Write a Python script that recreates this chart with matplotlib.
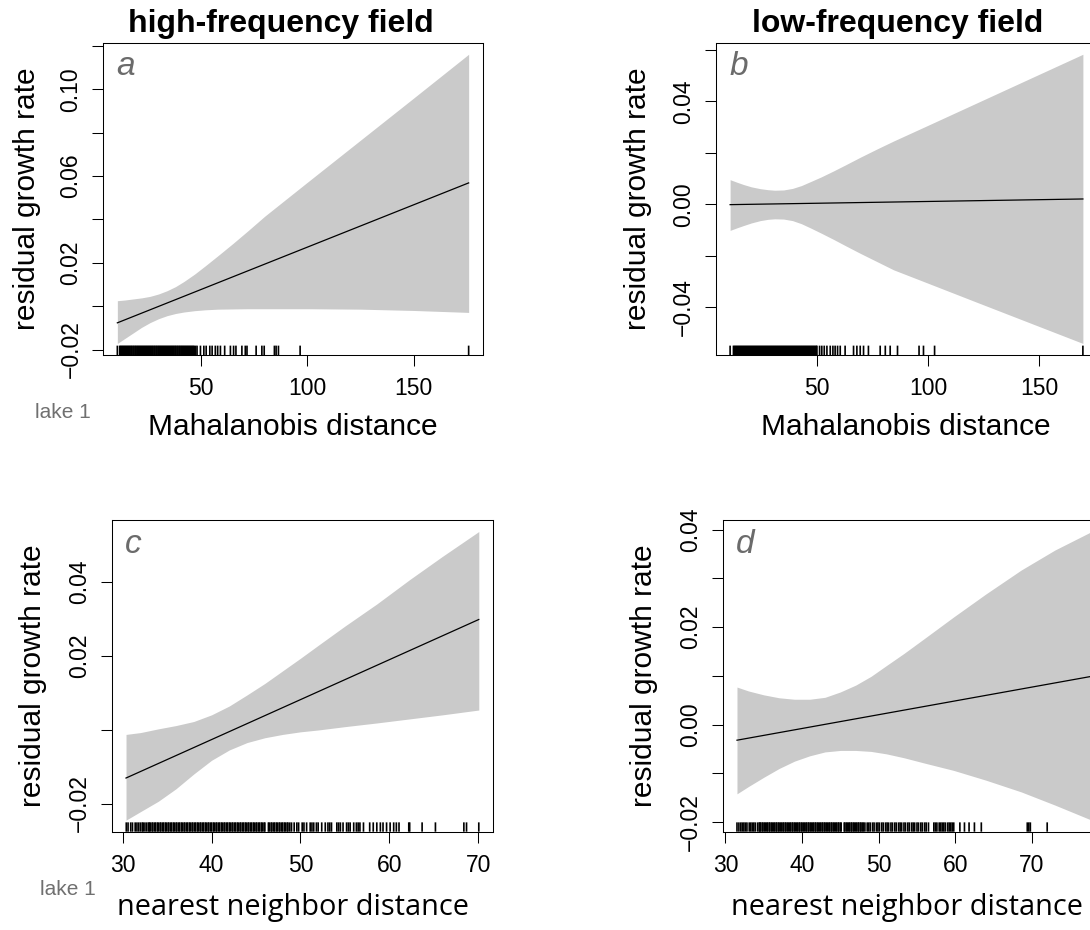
import matplotlib
matplotlib.use("Agg")
import matplotlib.pyplot as plt

W, H = 1090, 930

# ---- panel a: high-frequency field vs Mahalanobis distance
a_x = [10.6, 14, 18, 22, 26, 30, 34, 38, 42, 47, 52, 58, 65, 72, 80, 100, 125, 150, 175.9]
a_upper = [0.0025, 0.0028, 0.0033, 0.0038, 0.0045, 0.0056, 0.0071, 0.0090, 0.0114, 0.0148,
           0.0186, 0.0233, 0.0289, 0.0347, 0.0415, 0.0571, 0.0765, 0.0959, 0.1161]
a_lower = [-0.0172, -0.0150, -0.0124, -0.0098, -0.0076, -0.0058, -0.0044, -0.0034, -0.0027, -0.0021,
           -0.0017, -0.0014, -0.0013, -0.0012, -0.0012, -0.0012, -0.0014, -0.0020, -0.0029]
a_fit_x = [10.6, 175.9]
a_fit_y = [-0.0077, 0.0568]
a_rug = [10.6,
         11.7, 12.1, 12.6, 13.0, 13.5, 13.9, 14.4, 14.8, 15.3, 15.7, 16.2, 16.6, 17.1, 17.5, 18.0, 18.4,
         18.9, 19.3, 19.8, 20.2, 20.7, 21.1, 21.6, 22.0, 22.5, 22.9, 23.4, 23.8, 24.3, 24.7, 25.2, 25.6,
         26.1, 26.5, 27.0, 27.4, 27.9, 28.3, 28.8, 29.2, 29.7, 30.1, 30.6, 31.0, 31.5, 31.9, 32.4, 32.8,
         33.3, 33.7, 34.2, 34.6, 35.1, 35.5, 36.0, 36.4, 36.9, 37.3, 37.8, 38.2, 38.7, 39.1, 39.6, 40.0,
         40.5, 40.9, 41.4, 41.8, 42.3, 42.7, 43.2, 43.6, 44.1, 44.5, 45.0, 45.4, 45.9, 46.3, 46.8, 47.4,
         48.1, 49.7, 51.3, 52.4, 54.1, 55.2, 56.7, 57.8, 59.1, 61.1, 63.8, 65.3, 66.4, 69.2, 70.8, 71.6,
         75.9, 78.6, 79.7, 84.5, 85.3, 86.4, 96.6, 175.9]

# ---- panel b: low-frequency field vs Mahalanobis distance
b_x = [10.9, 14, 17, 20.5, 24.5, 28, 31, 35, 39, 43, 47, 52, 57.5, 63, 69.5, 77, 84.5, 100, 122, 145, 169.8]
b_upper = [0.0096, 0.0086, 0.0077, 0.0068, 0.0061, 0.0057, 0.0055, 0.0056, 0.0062, 0.0073, 0.0088,
           0.0107, 0.0130, 0.0154, 0.0183, 0.0215, 0.0246, 0.0307, 0.0394, 0.0485, 0.0583]
b_lower = [-0.0101, -0.0091, -0.0082, -0.0072, -0.0063, -0.0058, -0.0056, -0.0057, -0.0063, -0.0075, -0.0091,
           -0.0112, -0.0136, -0.0161, -0.0190, -0.0222, -0.0254, -0.0306, -0.0380, -0.0457, -0.0540]
b_fit_x = [10.9, 169.8]
b_fit_y = [-0.0001, 0.0021]
b_rug = [10.9,
         12.4, 12.8, 13.3, 13.7, 14.2, 14.6, 15.1, 15.5, 16.0, 16.4, 16.9, 17.3, 17.8, 18.2, 18.7, 19.1,
         19.6, 20.0, 20.5, 20.9, 21.4, 21.8, 22.3, 22.7, 23.2, 23.6, 24.1, 24.5, 25.0, 25.4, 25.9, 26.3,
         26.8, 27.2, 27.7, 28.1, 28.6, 29.0, 29.5, 29.9, 30.4, 30.8, 31.3, 31.7, 32.2, 32.6, 33.1, 33.5,
         34.0, 34.4, 34.9, 35.3, 35.8, 36.2, 36.7, 37.1, 37.6, 38.0, 38.5, 38.9, 39.4, 39.8, 40.3, 40.7,
         41.2, 41.6, 42.1, 42.5, 43.0, 43.4, 43.9, 44.3, 44.8, 45.2, 45.7, 46.1, 46.6, 47.0, 47.5, 47.9,
         48.4, 48.8, 49.3, 49.7, 50.0,
         51.2, 52.2, 53.3, 54.5, 56.0, 57.2, 58.2, 59.3, 60.5, 62.7, 66.5, 68.0, 69.5, 71.0, 73.2, 78.5,
         80.8, 83.0, 86.3, 96.0, 98.0, 103.0, 169.8]

# ---- panel c: high-frequency field vs nearest neighbor distance
c_x = [30.37, 32, 34, 36, 38, 40, 42, 44, 46, 48, 50, 52, 55, 58.6, 62.3, 66, 70.08]
c_upper = [-0.0013, -0.0008, 0.0002, 0.0011, 0.0022, 0.0040, 0.0064, 0.0094, 0.0125, 0.0159,
           0.0193, 0.0228, 0.0280, 0.0340, 0.0406, 0.0469, 0.0536]
c_lower = [-0.0245, -0.0222, -0.0194, -0.0160, -0.0120, -0.0083, -0.0055, -0.0035, -0.0022, -0.0013,
           -0.0006, -0.0001, 0.0008, 0.0018, 0.0029, 0.0040, 0.0053]
c_fit_x = [30.37, 70.08]
c_fit_y = [-0.0131, 0.0298]
c_rug = [30.4, 30.6, 30.9, 31.1, 31.4, 31.6, 31.8, 32.0, 32.2, 32.3, 32.5, 32.7, 32.9,
         33.0, 33.1, 33.3, 33.4, 33.6, 33.7, 33.9, 34.0, 34.2, 34.3, 34.5, 34.6, 34.8, 34.9, 35.1, 35.2,
         35.4, 35.5, 35.7, 35.8, 36.0, 36.1, 36.3, 36.4, 36.6, 36.7, 36.9, 37.0, 37.2, 37.3, 37.5, 37.6,
         37.8, 37.9, 38.1, 38.2, 38.4, 38.5, 38.7, 38.8, 39.0, 39.1, 39.3, 39.4, 39.6, 39.7, 39.9, 40.0,
         40.2, 40.3, 40.5, 40.6, 40.8, 40.9, 41.1, 41.2, 41.4, 41.5, 41.7, 41.8, 42.0, 42.1, 42.3, 42.4,
         42.6, 42.7, 42.9, 43.0, 43.2, 43.3, 43.5, 43.6, 43.8, 43.9, 44.1, 44.2, 44.4, 44.5, 44.7, 44.8,
         45.0, 45.1, 45.3, 45.4, 45.6, 45.7, 45.9, 46.0,
         46.4, 46.5, 46.7, 46.8, 47.0, 47.1, 47.3, 47.4, 47.6, 47.7, 47.9, 48.0, 48.2, 48.3, 48.5, 48.6, 48.8,
         49.0, 49.3, 49.6, 49.8, 50.2, 50.4, 50.7, 51.1, 51.3, 51.5, 51.8, 52.0, 52.4, 52.8, 53.1, 53.3,
         53.5, 54.1, 54.3, 54.5, 54.8, 55.2, 55.4, 55.6, 56.0, 56.3, 56.5, 56.7, 57.1, 57.8, 58.2, 58.6,
         59.0, 59.3, 59.7, 60.1, 60.5, 60.8, 61.1, 62.2, 62.3, 63.7, 65.2, 68.4, 68.7, 70.08]

# ---- panel d: low-frequency field vs nearest neighbor distance
d_x = [31.5, 33, 35, 37, 39, 41, 43, 45, 47, 49, 51, 53.3, 56, 59.8, 64, 68.6, 73, 77.8]
d_upper = [0.0077, 0.0069, 0.0061, 0.0055, 0.0052, 0.0052, 0.0056, 0.0067, 0.0081, 0.0099, 0.0121,
           0.0146, 0.0177, 0.0221, 0.0268, 0.0317, 0.0358, 0.0396]
d_lower = [-0.0142, -0.0127, -0.0108, -0.0090, -0.0075, -0.0064, -0.0056, -0.0053, -0.0053, -0.0055,
           -0.0060, -0.0068, -0.0079, -0.0094, -0.0114, -0.0138, -0.0165, -0.0196]
d_fit_x = [31.5, 77.8]
d_fit_y = [-0.0032, 0.0099]
d_rug = [31.5, 31.75, 32.0, 32.2, 32.4, 32.6, 32.8, 33.1, 33.3, 33.5, 33.7, 33.9, 34.2, 34.4,
         34.5, 34.6, 34.8, 34.9, 35.1, 35.2, 35.4, 35.5, 35.7, 35.8, 36.0, 36.1, 36.3, 36.4, 36.6, 36.7,
         36.9, 37.0, 37.2, 37.3, 37.5, 37.6, 37.8, 37.9, 38.1, 38.2, 38.4, 38.5, 38.7, 38.8, 39.0, 39.1,
         39.3, 39.4, 39.6, 39.7, 39.9, 40.0, 40.2, 40.3, 40.5, 40.6, 40.8, 40.9, 41.1, 41.2, 41.4, 41.5,
         41.7, 41.8, 42.0, 42.1, 42.3, 42.4, 42.6, 42.7, 42.9, 43.0, 43.2, 43.3, 43.5, 43.6, 43.8, 43.9,
         44.1, 44.2, 44.4, 44.5, 44.7, 44.8, 45.0, 45.1,
         45.5, 45.6, 45.8, 45.9, 46.1, 46.2, 46.4, 46.5, 46.7, 46.8, 47.0, 47.1, 47.3, 47.4, 47.6, 47.7, 47.9, 48.0,
         48.2, 48.5, 48.7, 48.9, 49.2, 49.4, 49.7, 49.9, 50.1, 50.4, 50.6, 50.9, 51.1, 51.3, 51.6, 51.8,
         52.1, 52.3, 52.6, 52.8, 53.0, 53.3, 53.5, 53.8, 54.0, 54.3, 54.5, 54.7, 55.0, 55.2, 55.5, 55.7,
         56.0, 56.2, 56.5,
         57.2, 57.4, 57.6, 57.9, 58.1, 58.3, 58.5, 58.7, 59.0, 59.2, 59.4, 59.6, 59.8,
         60.6, 61.2, 61.8, 62.5, 63.4, 69.4, 69.6, 69.8, 72.0, 77.7, 77.8]

MINUS = "\u2212"
a_yticks = [-0.02, 0.0, 0.02, 0.04, 0.06, 0.08, 0.10, 0.12]
a_ylabels = [MINUS + "0.02", "", "0.02", "", "0.06", "", "0.10", ""]
b_yticks = [-0.04, -0.02, 0.0, 0.02, 0.04, 0.06]
b_ylabels = [MINUS + "0.04", "", "0.00", "", "0.04", ""]
c_yticks = [-0.02, 0.0, 0.02, 0.04]
c_ylabels = [MINUS + "0.02", "", "0.02", "0.04"]
d_yticks = [-0.02, -0.01, 0.0, 0.01, 0.02, 0.03, 0.04]
d_ylabels = [MINUS + "0.02", "", "0.00", "", "0.02", "", "0.04"]
maha_ticks = [50, 100, 150]
nn_ticks = [30, 40, 50, 60, 70]

BAND = "#cacaca"
SANS = "Liberation Sans"
plt.rcParams["font.family"] = SANS


def box(left, top, right, bottom):
    # pixel edges -> figure fraction rectangle
    return [left / W, 1 - bottom / H, (right - left) / W, (bottom - top) / H]


def padded(lo, hi, frac=0.04):
    span = hi - lo
    return lo - frac * span, hi + frac * span


def draw_panel(ax, x, upper, lower, fit_x, fit_y, rug, yticks, ylabels, xticks, letter):
    ax.fill_between(x, lower, upper, color=BAND, lw=0)
    ax.plot(fit_x, fit_y, color="black", lw=0.9)
    ax.vlines(rug, 0, 0.03, transform=ax.get_xaxis_transform(), color="black",
              lw=1.2, snap=False)
    ax.set_xlim(*padded(min(x), max(x)))
    ax.set_ylim(*padded(min(lower), max(upper)))
    ax.set_xticks(xticks)
    ax.set_xticklabels([str(t) for t in xticks])
    ax.set_yticks(yticks)
    ax.set_yticklabels(ylabels, rotation=90, va="center")
    ax.tick_params(length=8, width=0.75, labelsize=16.5)
    ax.tick_params(axis="x", pad=8)
    ax.tick_params(axis="y", pad=7)
    for s in ax.spines.values():
        s.set_linewidth(0.75)
    ax.text(0.035, 0.895, letter, transform=ax.transAxes, fontsize=24,
            style="italic", color="#6b6b6b", va="baseline", ha="left")


fig = plt.figure(figsize=(W / 100, H / 100), dpi=100)

ax_a = fig.add_axes(box(103.3, 42.7, 482.7, 355))
ax_b = fig.add_axes(box(716, 42.7, 1097, 355))
ax_c = fig.add_axes(box(111.9, 520, 492.9, 831.7))
ax_d = fig.add_axes(box(722.8, 520, 1105.8, 831.7))

draw_panel(ax_a, a_x, a_upper, a_lower, a_fit_x, a_fit_y, a_rug, a_yticks, a_ylabels, maha_ticks, "a")
draw_panel(ax_b, b_x, b_upper, b_lower, b_fit_x, b_fit_y, b_rug, b_yticks, b_ylabels, maha_ticks, "b")
draw_panel(ax_c, c_x, c_upper, c_lower, c_fit_x, c_fit_y, c_rug, c_yticks, c_ylabels, nn_ticks, "c")
draw_panel(ax_d, d_x, d_upper, d_lower, d_fit_x, d_fit_y, d_rug, d_yticks, d_ylabels, nn_ticks, "d")


def ftext(x, y, s, **kw):
    fig.text(x / W, 1 - y / H, s, **kw)


# column titles
ftext(281, 32.3, "high-frequency field", ha="center", va="baseline", weight="bold", size=23)
ftext(898, 32.3, "low-frequency field", ha="center", va="baseline", weight="bold", size=23)

# y-axis labels
for xb, yc in [(34.8, 199), (646, 199), (41, 676), (652, 676)]:
    ftext(xb, yc, "residual growth rate", rotation=90, rotation_mode="anchor",
          ha="center", va="baseline", size=21.5)

# x-axis labels
ftext(293, 435, "Mahalanobis distance", ha="center", va="baseline", size=21.5)
ftext(906, 435, "Mahalanobis distance", ha="center", va="baseline", size=21.5)
ftext(293, 915, "nearest neighbor distance", ha="center", va="baseline", size=20.8, family="Open Sans")
ftext(907, 915, "nearest neighbor distance", ha="center", va="baseline", size=20.8, family="Open Sans")

# small lake tags
ftext(35, 418, "lake 1", ha="left", va="baseline", size=15, color="#707070")
ftext(40, 895, "lake 1", ha="left", va="baseline", size=15, color="#707070")

fig.savefig("out.png", dpi=100)
